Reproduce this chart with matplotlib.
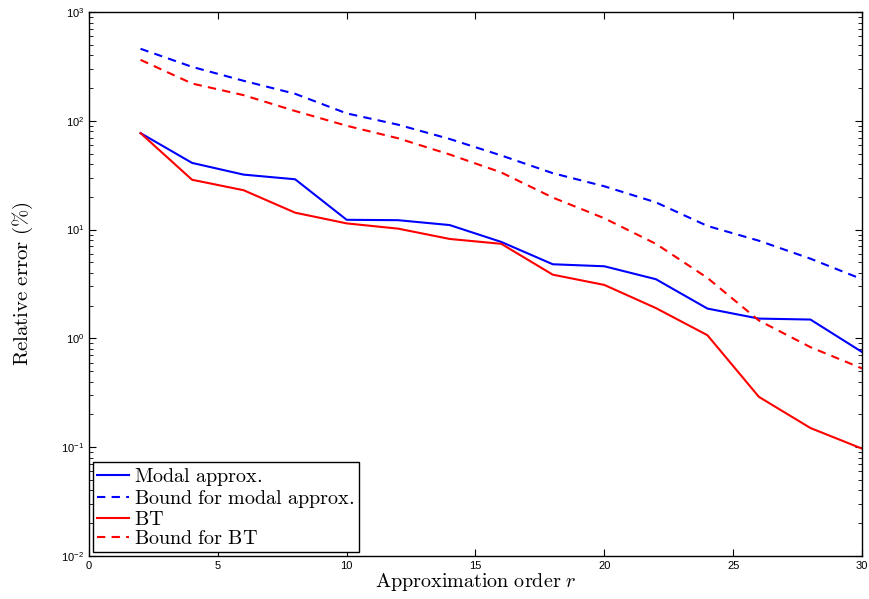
import matplotlib
matplotlib.use('Agg')
import matplotlib.pyplot as plt
import numpy as np

# approximation orders
r = [2, 4, 6, 8, 10, 12, 14, 16, 18, 20, 22, 24, 26, 28, 30]

# relative errors (%)
modal = [77, 41, 32, 29, 12.3, 12.2, 11.0, 7.7, 4.8, 4.6, 3.5, 1.88, 1.52, 1.49, 0.75]
bound_modal = [459, 313, 233, 177, 117, 92, 68, 48, 33, 25, 17.8, 10.8, 7.9, 5.4, 3.5]
bt = [77, 28.7, 23, 14.3, 11.4, 10.2, 8.2, 7.4, 3.85, 3.1, 1.9, 1.07, 0.29, 0.15, 0.097]
bound_bt = [363, 220, 172, 123, 90, 69, 49, 33.5, 19.7, 12.7, 7.4, 3.6, 1.46, 0.83, 0.53]

plt.rcParams['mathtext.fontset'] = 'cm'
plt.rcParams['font.family'] = 'Liberation Sans'

fig = plt.figure(figsize=(8.7, 5.99), dpi=100)
a = fig.add_axes([0.1023, 0.0718, 0.8885, 0.9082])

a.semilogy(r, modal, '-', color='b', linewidth=1.5, label=r'$\mathrm{Modal\ approx.}$')
a.semilogy(r, bound_modal, '--', color='b', linewidth=1.5, dashes=(4, 3), label=r'$\mathrm{Bound\ for\ modal\ approx.}$')
a.semilogy(r, bt, '-', color='r', linewidth=1.5, label=r'$\mathrm{BT}$')
a.semilogy(r, bound_bt, '--', color='r', linewidth=1.5, dashes=(4, 3), label=r'$\mathrm{Bound\ for\ BT}$')

a.set_xlim(0, 30)
a.set_ylim(1e-2, 1e3)
a.set_xticks([0, 5, 10, 15, 20, 25, 30])
a.tick_params(which='both', direction='in', top=True, right=True, labelsize=8)
a.tick_params(which='major', length=5)
a.tick_params(which='minor', length=3)
for s in a.spines.values():
    s.set_linewidth(1.0)

a.set_xlabel(r'$\mathrm{Approximation\ order\ }r$', fontsize=14.5, labelpad=0)
a.set_ylabel(r'$\mathrm{Relative\ error\ (\%)}$', fontsize=15, labelpad=19)

leg = a.legend(loc='lower left', fontsize=14.5, frameon=True, fancybox=False,
               edgecolor='k', framealpha=1, labelspacing=0.0, handlelength=1.6,
               handletextpad=0.25, borderpad=0.2, borderaxespad=0.2)
leg.get_frame().set_linewidth(1.0)

fig.savefig('out.png', dpi=100)
